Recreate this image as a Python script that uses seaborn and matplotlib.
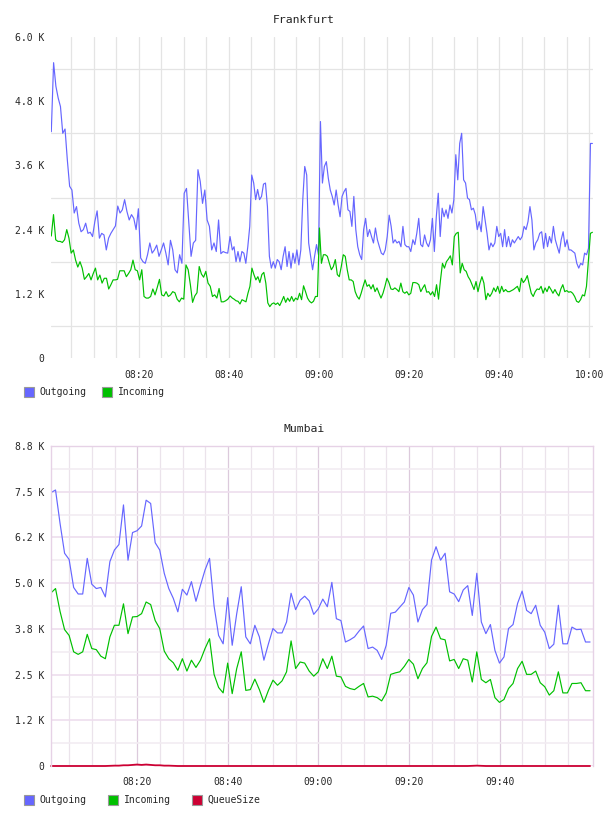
"""Frankfurt / Mumbai traffic charts (graphite style)."""
import numpy as np
import pandas as pd
import matplotlib
matplotlib.use('Agg')
import matplotlib.pyplot as plt
import matplotlib.dates as mdates
from matplotlib.patches import Rectangle
import seaborn as sns

# ---- data (values in K) ----
# Frankfurt, ~30s resolution, read in three stretches
fra_out_a = [4.23, 5.52, 5.08, 4.86, 4.70, 4.20, 4.28, 3.70, 3.21, 3.14,
             2.71, 2.83, 2.52, 2.36, 2.40, 2.52, 2.33, 2.35, 2.27, 2.55,
             2.75, 2.24, 2.33, 2.30, 2.02, 2.24, 2.33, 2.40, 2.47, 2.84,
             2.71, 2.77, 2.96, 2.74, 2.58, 2.68, 2.61, 2.40, 2.79, 1.87,
             1.80, 1.77, 1.93, 2.15, 1.96, 2.02, 2.11, 1.90, 2.02, 2.15,
             1.96, 1.74, 2.20, 2.02, 1.65, 1.59, 1.93, 1.77, 3.08, 3.17,
             2.52, 1.90, 2.15, 2.20, 3.52, 3.30, 2.89, 3.14, 2.58, 2.46,
             2.02, 2.15, 1.99, 2.58, 1.95, 1.99, 1.97, 1.96, 2.27, 2.02]
fra_in_a = [2.28, 2.68, 2.21, 2.18, 2.18, 2.16, 2.21, 2.40, 2.24, 1.96,
            2.02, 1.83, 1.70, 1.80, 1.68, 1.47, 1.52, 1.58, 1.46, 1.58,
            1.68, 1.46, 1.55, 1.40, 1.49, 1.49, 1.29, 1.37, 1.46, 1.46,
            1.47, 1.63, 1.63, 1.63, 1.52, 1.58, 1.65, 1.83, 1.65, 1.63,
            1.46, 1.65, 1.15, 1.12, 1.12, 1.15, 1.29, 1.18, 1.32, 1.47,
            1.18, 1.16, 1.24, 1.15, 1.18, 1.24, 1.22, 1.10, 1.05, 1.12,
            1.10, 1.74, 1.65, 1.37, 1.04, 1.16, 1.22, 1.71, 1.57, 1.51,
            1.62, 1.40, 1.34, 1.15, 1.18, 1.12, 1.30, 1.05, 1.05, 1.07,
            1.10, 1.16, 1.12]
fra_out_b = [2.08, 1.80, 1.99, 1.80, 1.99, 1.96, 1.77, 2.08, 2.46, 3.42,
             3.27, 2.96, 3.15, 2.96, 3.02, 3.25, 3.27, 2.83, 1.90, 1.68,
             1.80, 1.68, 1.84, 1.80, 1.65, 1.90, 2.08, 1.71, 1.99, 1.68,
             1.96, 1.77, 2.02, 1.74, 2.02, 2.96, 3.58, 3.42, 2.15, 1.90,
             1.65, 1.90, 2.12, 1.93, 4.42, 3.27, 3.58, 3.67, 3.36, 3.14,
             3.02, 2.86, 3.14, 2.86, 2.64, 3.02, 3.11, 3.17, 2.77, 2.74,
             2.46, 3.02, 2.40, 2.08, 1.93, 1.84, 2.40, 2.61, 2.27, 2.40,
             2.27, 2.15, 2.43, 2.21, 2.08, 1.96, 1.93, 2.02, 2.27, 2.67,
             2.46, 2.15, 2.21, 2.15, 2.18, 2.08, 2.46, 2.12, 2.08, 2.08,
             1.99]
fra_in_b = [1.10, 1.07, 1.06, 1.01, 1.09, 1.07, 1.05, 1.21, 1.34, 1.68,
            1.56, 1.46, 1.52, 1.41, 1.56, 1.60, 1.40, 1.03, 0.96, 1.01,
            1.03, 1.00, 1.03, 0.98, 1.06, 1.15, 1.04, 1.12, 1.06, 1.15,
            1.06, 1.12, 1.09, 1.21, 1.09, 1.35, 1.24, 1.12, 1.06, 1.03,
            1.06, 1.15, 1.15, 2.43, 1.77, 1.93, 1.93, 1.90, 1.77, 1.65,
            1.71, 1.84, 1.56, 1.52, 1.71, 1.93, 1.90, 1.65, 1.46, 1.46,
            1.43, 1.24, 1.15, 1.10, 1.21, 1.34, 1.46, 1.34, 1.37, 1.29,
            1.37, 1.24, 1.31, 1.21, 1.12, 1.21, 1.34, 1.49, 1.41, 1.29,
            1.28, 1.31, 1.28, 1.24, 1.40, 1.24, 1.21, 1.24, 1.18, 1.21]
fra_out_c = [2.21, 2.12, 2.33, 2.61, 2.12, 2.08, 2.30, 2.15, 2.08, 2.21,
             2.61, 1.99, 2.64, 3.08, 2.27, 2.80, 2.64, 2.77, 2.61, 2.86,
             2.71, 2.96, 3.80, 3.33, 4.01, 4.20, 3.33, 3.27, 2.99, 2.96,
             2.77, 2.80, 2.68, 2.40, 2.55, 2.36, 2.83, 2.58, 2.33, 2.02,
             2.15, 2.08, 2.15, 2.46, 2.27, 2.33, 2.08, 2.40, 2.08, 2.27,
             2.08, 2.21, 2.15, 2.21, 2.27, 2.21, 2.27, 2.46, 2.40, 2.55,
             2.83, 2.58, 2.02, 2.15, 2.21, 2.33, 2.36, 2.05, 2.33, 2.08,
             2.27, 2.15, 2.46, 2.21, 2.08, 1.96, 2.21, 2.36, 2.08, 2.21,
             2.02, 2.02, 1.99, 1.96, 1.77, 1.68, 1.77, 1.74, 1.96, 1.93,
             2.05, 4.01, 4.01]
fra_in_c = [1.41, 1.41, 1.40, 1.37, 1.24, 1.31, 1.37, 1.23, 1.24, 1.18,
            1.24, 1.15, 1.37, 1.10, 1.46, 1.77, 1.68, 1.80, 1.85, 1.91,
            1.74, 2.27, 2.33, 2.35, 1.59, 1.77, 1.65, 1.62, 1.52, 1.46,
            1.37, 1.28, 1.43, 1.24, 1.40, 1.52, 1.40, 1.09, 1.21, 1.15,
            1.21, 1.31, 1.24, 1.34, 1.21, 1.34, 1.24, 1.28, 1.24, 1.24,
            1.26, 1.28, 1.31, 1.34, 1.24, 1.49, 1.41, 1.46, 1.54, 1.37,
            1.21, 1.15, 1.24, 1.29, 1.28, 1.34, 1.21, 1.31, 1.24, 1.34,
            1.28, 1.21, 1.28, 1.21, 1.16, 1.29, 1.37, 1.24, 1.26, 1.23,
            1.24, 1.21, 1.15, 1.06, 1.04, 1.09, 1.18, 1.16, 1.34, 1.84,
            2.33, 2.35]
fra_spans = [('08:00:36', '08:40:46'), ('08:41:09', '09:20:22'), ('09:20:50', '10:00:40')]

# Mumbai, 1 minute resolution
mum_out = [7.52, 7.59, 6.67, 5.85, 5.68, 4.91, 4.73, 4.73, 5.71, 5.00,
           4.88, 4.91, 4.65, 5.62, 5.94, 6.09, 7.18, 5.66, 6.42, 6.47,
           6.60, 7.31, 7.22, 6.14, 5.94, 5.30, 4.88, 4.61, 4.24, 4.86,
           4.70, 5.07, 4.53, 4.97, 5.39, 5.71, 4.40, 3.59, 3.36, 4.63,
           3.32, 4.19, 4.93, 3.55, 3.36, 3.87, 3.55, 2.91, 3.36, 3.78,
           3.66, 3.66, 3.96, 4.75, 4.30, 4.56, 4.67, 4.54, 4.17, 4.32,
           4.59, 4.38, 5.05, 4.05, 4.00, 3.41, 3.47, 3.55, 3.71, 3.85,
           3.23, 3.27, 3.18, 2.93, 3.32, 4.20, 4.23, 4.37, 4.51, 4.91,
           4.70, 3.96, 4.30, 4.44, 5.66, 6.03, 5.66, 5.85, 4.79, 4.73,
           4.52, 4.84, 4.96, 4.14, 5.30, 3.96, 3.64, 3.89, 3.18, 2.83,
           3.00, 3.78, 3.89, 4.47, 4.81, 4.28, 4.19, 4.42, 3.87, 3.68,
           3.23, 3.35, 4.42, 3.36, 3.36, 3.82, 3.75, 3.76, 3.41, 3.41]
mum_in = [4.76, 4.88, 4.25, 3.75, 3.59, 3.14, 3.07, 3.14, 3.62, 3.23,
          3.20, 3.02, 2.95, 3.55, 3.87, 3.87, 4.46, 3.64, 4.10, 4.11,
          4.19, 4.51, 4.44, 4.00, 3.78, 3.16, 2.95, 2.84, 2.63, 2.95,
          2.61, 2.91, 2.71, 2.91, 3.23, 3.50, 2.52, 2.16, 2.01, 2.83,
          1.99, 2.68, 3.14, 2.08, 2.10, 2.39, 2.10, 1.75, 2.08, 2.36,
          2.22, 2.34, 2.59, 3.44, 2.68, 2.86, 2.83, 2.61, 2.47, 2.59,
          2.95, 2.68, 3.02, 2.47, 2.45, 2.19, 2.13, 2.10, 2.19, 2.27,
          1.90, 1.92, 1.88, 1.79, 2.01, 2.52, 2.56, 2.59, 2.74, 2.93,
          2.80, 2.40, 2.68, 2.84, 3.56, 3.82, 3.50, 3.47, 2.89, 2.93,
          2.68, 2.95, 2.91, 2.31, 3.14, 2.38, 2.29, 2.38, 1.88, 1.75,
          1.83, 2.13, 2.27, 2.68, 2.88, 2.52, 2.52, 2.61, 2.29, 2.18,
          1.95, 2.07, 2.59, 2.01, 2.01, 2.27, 2.27, 2.29, 2.07, 2.07]
mum_queue = [0.0, 0.0, 0.0, 0.0, 0.0, 0.0, 0.0, 0.0, 0.0, 0.0,
             0.0, 0.0, 0.0, 0.005, 0.01, 0.01, 0.02, 0.02, 0.03, 0.04,
             0.03, 0.04, 0.03, 0.02, 0.02, 0.01, 0.01, 0.005, 0.0, 0.0,
             0.0, 0.0, 0.0, 0.0, 0.0, 0.0, 0.0, 0.0, 0.0, 0.0,
             0.0, 0.0, 0.0, 0.0, 0.0, 0.0, 0.0, 0.0, 0.0, 0.0,
             0.0, 0.0, 0.0, 0.0, 0.0, 0.0, 0.0, 0.0, 0.0, 0.0,
             0.0, 0.0, 0.0, 0.0, 0.0, 0.0, 0.0, 0.0, 0.0, 0.0,
             0.0, 0.0, 0.0, 0.0, 0.0, 0.0, 0.0, 0.0, 0.0, 0.0,
             0.0, 0.0, 0.0, 0.0, 0.0, 0.0, 0.0, 0.0, 0.0, 0.0,
             0.0, 0.0, 0.0, 0.005, 0.01, 0.005, 0.0, 0.0, 0.0, 0.0,
             0.0, 0.0, 0.0, 0.0, 0.0, 0.0, 0.0, 0.0, 0.0, 0.0,
             0.0, 0.0, 0.0, 0.0, 0.0, 0.0, 0.0, 0.0, 0.0, 0.0]
mum_start = '08:00:57'

fra_yticks = [0, 1.2, 2.4, 3.6, 4.8, 6.0]
fra_ylabels = ['0', '1.2 K', '2.4 K', '3.6 K', '4.8 K', '6.0 K']
mum_ymax = 8.8
mum_ylabels = ['0', '1.2 K', '2.5 K', '3.8 K', '5.0 K', '6.2 K', '7.5 K', '8.8 K']

C_OUT, C_IN, C_Q = '#6666ff', '#00c000', '#cc0033'
DAY = '2024-01-01 '

def T(s):
    return pd.Timestamp(DAY + s)

def span(vals, t0, t1):
    return pd.date_range(T(t0), T(t1), periods=len(vals))

fra_t_out = np.concatenate([span(v, *s) for v, s in zip([fra_out_a, fra_out_b, fra_out_c], fra_spans)])
fra_t_in = np.concatenate([span(v, *s) for v, s in zip([fra_in_a, fra_in_b, fra_in_c], fra_spans)])
fra_out = fra_out_a + fra_out_b + fra_out_c
fra_in = fra_in_a + fra_in_b + fra_in_c
mum_t = pd.date_range(T(mum_start), periods=len(mum_out), freq='60s')

sns.set_style('white')
plt.rcParams['font.family'] = ['DejaVu Sans Mono']

W, H = 608, 816
fig = plt.figure(figsize=(W / 100, H / 100), dpi=100)
ax1 = fig.add_axes([51 / W, 1 - 358 / H, 542 / W, 321 / H])
ax2 = fig.add_axes([51 / W, 1 - 766 / H, 542 / W, 320 / H])

lw = 0.85
sns.lineplot(x=fra_t_out, y=fra_out, ax=ax1, color=C_OUT, lw=lw, estimator=None, sort=False)
sns.lineplot(x=fra_t_in, y=fra_in, ax=ax1, color=C_IN, lw=lw, estimator=None, sort=False)
sns.lineplot(x=mum_t, y=mum_out, ax=ax2, color=C_OUT, lw=lw, estimator=None, sort=False)
sns.lineplot(x=mum_t, y=mum_in, ax=ax2, color=C_IN, lw=lw, estimator=None, sort=False)
sns.lineplot(x=mum_t, y=mum_queue, ax=ax2, color=C_Q, lw=1.3, estimator=None, sort=False, clip_on=False)

fmt = mdates.DateFormatter('%H:%M')
# top chart
ax1.set_xlim(T('08:00:32'), T('10:00:48'))
ax1.set_ylim(0, 6.0)
ax1.set_xticks(mdates.date2num(pd.date_range(T('08:20'), T('10:00'), freq='20min')))
ax1.set_xticks(mdates.date2num(pd.date_range(T('08:05'), T('10:00'), freq='5min')), minor=True)
ax1.xaxis.set_major_formatter(fmt)
ax1.set_yticks(fra_yticks, fra_ylabels)
ax1.set_yticks([v + 0.6 for v in fra_yticks[:-1]], minor=True)
ax1.grid(True, axis='x', which='both', color='#e4e4e4', lw=0.9)
ax1.grid(True, axis='y', which='minor', color='#e4e4e4', lw=0.9)
for s in ax1.spines.values():
    s.set_visible(False)
ax1.tick_params(axis='x', which='both', length=0, labelsize=7, pad=8.5)
ax1.tick_params(axis='y', which='both', length=0, labelsize=7, pad=5)

# bottom chart
step = mum_ymax / 7
ax2.set_xlim(T('08:00:57'), T('10:00:36'))
ax2.set_ylim(0, mum_ymax)
ax2.set_xticks(mdates.date2num(pd.date_range(T('08:20'), T('09:40'), freq='20min')))
ax2.set_xticks(mdates.date2num(pd.date_range(T('08:05'), T('09:55'), freq='5min')), minor=True)
ax2.xaxis.set_major_formatter(fmt)
ax2.set_yticks([k * step for k in range(8)], mum_ylabels)
ax2.set_yticks([(k + 0.5) * step for k in range(7)], minor=True)
ax2.grid(True, axis='x', which='major', color='#dccadc', lw=0.9)
ax2.grid(True, axis='x', which='minor', color='#ebe3eb', lw=0.9)
ax2.grid(True, axis='y', which='major', color='#eedeee', lw=1.2)
ax2.grid(True, axis='y', which='minor', color='#f2ecf2', lw=1.2)
for k, s in ax2.spines.items():
    s.set_color('#e6d2e6')
    s.set_linewidth(1)
ax2.spines['bottom'].set_visible(False)
ax2.tick_params(axis='x', which='both', length=0, labelsize=7, pad=8)
ax2.tick_params(axis='y', which='both', length=0, labelsize=7, pad=5)

for ax in (ax1, ax2):
    ax.set_axisbelow(True)
    ax.set_xlabel('')
    ax.set_ylabel('')

fig.text(0.5, 1 - 20 / H, 'Frankfurt', ha='center', va='center', fontsize=8.2, color='#222222')
fig.text(0.5, 1 - 429 / H, 'Mumbai', ha='center', va='center', fontsize=8.2, color='#222222')

def legend_item(x, y, color, label, tx):
    fig.patches.append(Rectangle((x / W, 1 - (y + 5) / H), 10 / W, 10 / H, transform=fig.transFigure,
                                 facecolor=color, edgecolor='#999999', lw=0.8))
    fig.text(tx / W, 1 - y / H, label, ha='left', va='center', fontsize=7)

legend_item(24, 392, C_OUT, 'Outgoing', 39)
legend_item(102, 392, C_IN, 'Incoming', 118)
legend_item(24, 800, C_OUT, 'Outgoing', 39)
legend_item(108, 800, C_IN, 'Incoming', 124)
legend_item(192, 800, C_Q, 'QueueSize', 207)

fig.savefig('out.png', dpi=100)
